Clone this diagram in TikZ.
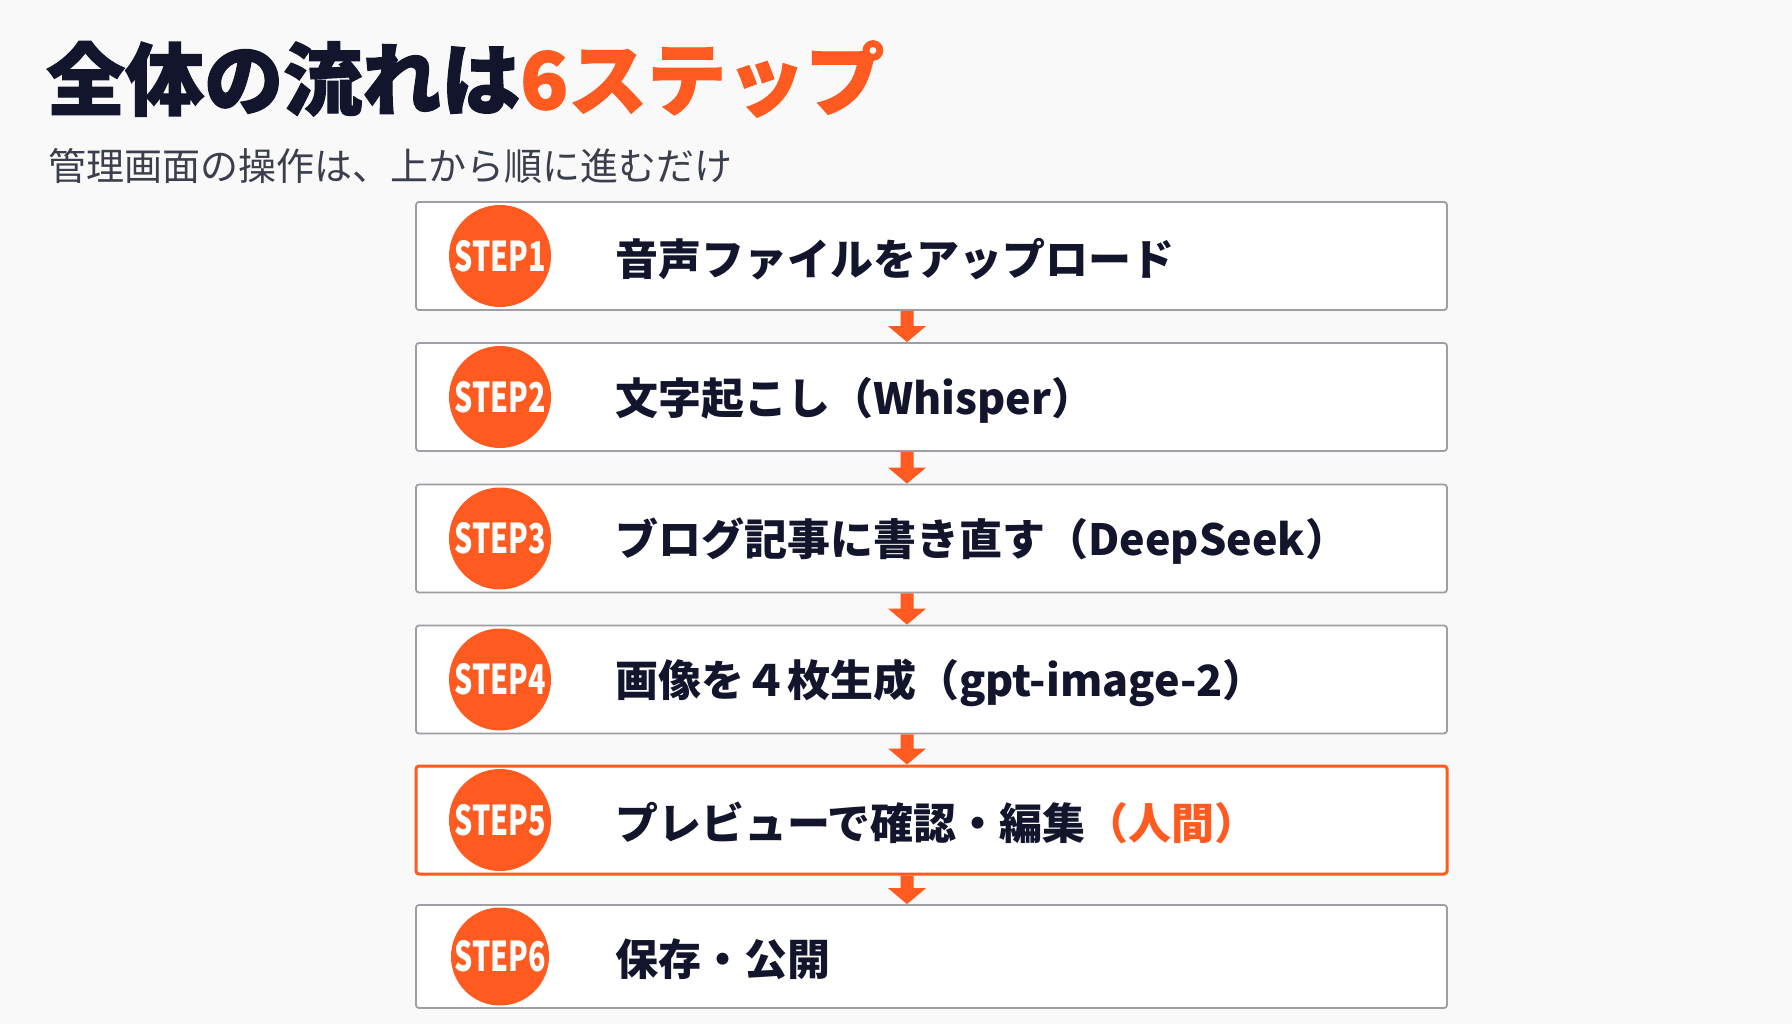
\documentclass[tikz,border=0pt]{standalone}
\usepackage{fontspec}
\usepackage{graphicx}
\setmainfont{Noto Sans CJK JP}
\usetikzlibrary{calc}
\definecolor{acc}{HTML}{FF5A1F}
\definecolor{navy}{HTML}{13152C}
\definecolor{subc}{HTML}{3B3E4D}
\definecolor{bordc}{HTML}{9E9EA4}
\definecolor{bgc}{HTML}{F9F9F9}
\tikzset{
  stepbox/.style={draw=bordc, line width=1.8pt, fill=white, rounded corners=3pt,
    minimum width=1031pt, minimum height=108pt, inner sep=0pt},
  hotbox/.style={stepbox, draw=acc, line width=3pt},
  badge/.style={circle, fill=acc, minimum size=102pt, inner sep=0pt, text=white,
    font=\fontsize{41pt}{41pt}\selectfont\bfseries},
  steptext/.style={anchor=west, inner sep=0pt, text=navy, yshift=-3pt,
    font=\fontsize{43pt}{50pt}\selectfont\bfseries},
}
\newcommand{\badgetext}[1]{\scalebox{0.7}[1]{#1}}
\newcommand{\flowarrow}[2]{%
  \path (#1.south) ++(-24.5,0) coordinate (#1s);
  \path (#2.north) ++(-24.5,0) coordinate (#2n);
  \fill[acc] ($(#1s)+(-6.5,0)$) -- ($(#2n)+(-6.5,-16)$) -- ($(#2n)+(-19,-16)$) -- (#2n)
    -- ($(#2n)+(19,-16)$) -- ($(#2n)+(6.5,-16)$) -- ($(#1s)+(6.5,0)$) -- cycle;
}
\begin{document}
\begin{tikzpicture}[x=1pt,y=-1pt]
\useasboundingbox (0,0) rectangle (1792,1024);
\fill[bgc] (0,0) rectangle (1792,1024);

\node[anchor=west, inner sep=0pt, text=navy, font=\fontsize{79pt}{80pt}\selectfont\bfseries\addfontfeature{FakeBold=1.5}] (title) at (46,79) {全体の流れは\textcolor{acc}{6ステップ}};
\node[anchor=west, inner sep=0pt, text=subc, font=\fontsize{38pt}{40pt}\selectfont] (sub) at (48,166) {管理画面の操作は、上から順に進むだけ};

\node[stepbox] (b1) at (931.5,256) {};
\node[stepbox] (b2) at (931.5,397) {};
\node[stepbox] (b3) at (931.5,538.5) {};
\node[stepbox] (b4) at (931.5,679.5) {};
\node[hotbox]  (b5) at (931.5,820) {};
\node[stepbox, minimum height=103pt] (b6) at (931.5,956.5) {};

\node[badge] (c1) at (500,256) {\badgetext{STEP1}};
\node[badge] (c2) at (500,397) {\badgetext{STEP2}};
\node[badge] (c3) at (500,538.5) {\badgetext{STEP3}};
\node[badge] (c4) at (500,679.5) {\badgetext{STEP4}};
\node[badge] (c5) at (500,820) {\badgetext{STEP5}};
\node[badge, minimum size=98pt] (c6) at (500,956.5) {\badgetext{STEP6}};

\node[steptext] (t1) at (615,256) {音声ファイルをアップロード};
\node[steptext] (t2) at (615,397) {文字起こし（Whisper）};
\node[steptext] (t3) at (615,538.5) {ブログ記事に書き直す（DeepSeek）};
\node[steptext] (t4) at (615,679.5) {画像を４枚生成（gpt-image-2）};
\node[steptext] (t5) at (615,820) {プレビューで確認・編集\textcolor{acc}{（人間）}};
\node[steptext] (t6) at (615,956.5) {保存・公開};

\flowarrow{b1}{b2}
\flowarrow{b2}{b3}
\flowarrow{b3}{b4}
\flowarrow{b4}{b5}
\flowarrow{b5}{b6}
\end{tikzpicture}
\end{document}
